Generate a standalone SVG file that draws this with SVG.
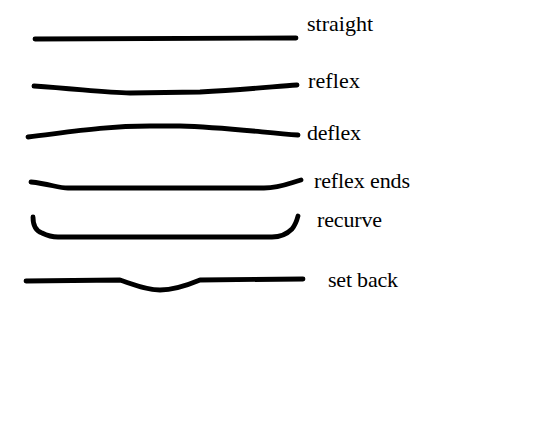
<svg xmlns="http://www.w3.org/2000/svg" width="539" height="440" viewBox="0 0 539 440">
<style>
.c{fill:none;stroke:#000;stroke-width:4.8;stroke-linecap:round;stroke-linejoin:round}
.t{font-family:"Liberation Serif","Times New Roman",serif;font-size:22px;fill:#000}
</style>
<rect width="539" height="440" fill="#fff"/>
<g id="connectors">
<path id="straight-line" class="c" d="M35,39 L296,38"/>
<path id="reflex-line" class="c" d="M34,86 C80,89 105,93 130,93 L200,92 C240,90 270,87 297,85"/>
<path id="deflex-line" class="c" d="M28,137 C70,132 105,126 150,126 L180,126 C220,127 260,132 298,135"/>
<path id="reflex-ends-line" class="c" d="M31,182 C50,184 58,188 68,188 L264,188 C280,188 290,183 301,180"/>
<path id="recurve-line" class="c" d="M33,217 C33,226 36,231 42,233 C48,236 52,237 58,237 L272,237 C282,237 288,233 292,229 C296,224 297,220 298,216"/>
<path id="setback-line" class="c" d="M26,281 L120,280 C135,285 147,290 160,290 C175,290 188,285 200,280 L303,279"/>
</g>
<g id="label-straight"><text class="t" x="307" y="31" textLength="66">straight</text></g>
<g id="label-reflex"><text class="t" x="308" y="88" textLength="52">reflex</text></g>
<g id="label-deflex"><text class="t" x="307" y="140" textLength="54">deflex</text></g>
<g id="label-reflex-ends"><text class="t" x="314" y="188" textLength="96">reflex ends</text></g>
<g id="label-recurve"><text class="t" x="317" y="227" textLength="65">recurve</text></g>
<g id="label-set-back"><text class="t" x="328" y="287" textLength="70">set back</text></g>
</svg>
